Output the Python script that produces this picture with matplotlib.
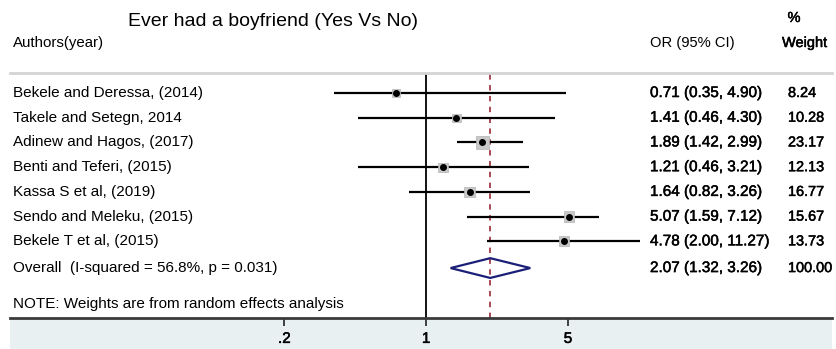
import matplotlib
matplotlib.use("Agg")
import matplotlib.pyplot as plt
import matplotlib.patheffects as pe
from matplotlib.patches import Rectangle, Polygon

plt.rcParams['font.family'] = ['Liberation Sans', 'DejaVu Sans']

# study data
studies = ["Bekele and Deressa, (2014)", "Takele and Setegn, 2014",
           "Adinew and Hagos, (2017)", "Benti and Teferi, (2015)",
           "Kassa S et al, (2019)", "Sendo and Meleku, (2015)",
           "Bekele T et al, (2015)"]
odds = [0.71, 1.41, 1.89, 1.21, 1.64, 5.07, 4.78]
lower = [0.35, 0.46, 1.42, 0.46, 0.82, 1.59, 2.00]
upper = [4.90, 4.30, 2.99, 3.21, 3.26, 7.12, 11.27]
weights = [8.24, 10.28, 23.17, 12.13, 16.77, 15.67, 13.73]

overall_label = "Overall  (I-squared = 56.8%, p = 0.031)"
overall_or, overall_lo, overall_hi = 2.07, 1.32, 3.26
overall_weight = 100.00

xticks = [0.2, 1, 5]
xticklabels = [".2", "1", "5"]

W, H = 836, 349
fig = plt.figure(figsize=(W / 100, H / 100), dpi=100)

# slightly heavier text for the numeric columns
heavy = [pe.withStroke(linewidth=0.35, foreground='black')]


def fx(x):
    return x / W


def fy(y):
    return 1 - y / H


# light strip under the axis
fig.patches.append(Rectangle((fx(10), 0), fx(832) - fx(10), fy(318),
                             transform=fig.transFigure, facecolor='#e8f0f2',
                             edgecolor='none', zorder=-5))

ax = fig.add_axes([fx(10), fy(318), fx(832) - fx(10), fy(73) - fy(318)])
ax.set_facecolor('none')
ax.set_xscale('log')
ax.set_xlim(0.0089, 100)
ax.set_ylim(9.1, -0.81)

for s in ['left', 'right']:
    ax.spines[s].set_visible(False)
ax.spines['top'].set_color('#d4d4d4')
ax.spines['top'].set_linewidth(2)
ax.spines['bottom'].set_color('#3a3a3a')
ax.spines['bottom'].set_linewidth(2)

ax.set_yticks([])
ax.set_xticks(xticks)
ax.set_xticklabels(xticklabels, fontsize=11, path_effects=heavy)
ax.minorticks_off()
ax.tick_params(axis='x', direction='out', length=6, width=1.2, pad=4,
               color='#222222')

# null line and pooled estimate line
ax.axvline(1, color='black', lw=1.3, zorder=2)
ax.axvline(overall_or, color='#a33a48', lw=1.3, ls=(0, (3, 3)), zorder=2)

rows = list(range(len(studies)))
ax.hlines(rows, lower, upper, color='black', lw=1.6, zorder=3)
ax.scatter(odds, rows, marker='s', s=[3.6 * w for w in weights],
           color='#c8c8c8', edgecolor='#b4b4b4', lw=0.5, zorder=4)
ax.plot(odds, rows, 'o', color='black', ms=4, zorder=5)

# pooled diamond
y_ov = 7.08
diamond = Polygon([(overall_lo, y_ov), (overall_or, y_ov - 0.4),
                   (overall_hi, y_ov), (overall_or, y_ov + 0.4)],
                  closed=True, fill=False, edgecolor='#1c1f78', lw=1.6, zorder=5)
ax.add_patch(diamond)

# text columns
tr = ax.get_yaxis_transform()
xl = (13 - 10) / 822
xo = (650 - 10) / 822
xw = (788 - 10) / 822
for i, name in enumerate(studies):
    ax.text(xl, i, name, transform=tr, fontsize=11, va='center')
    ax.text(xo, i, f"{odds[i]:.2f} ({lower[i]:.2f}, {upper[i]:.2f})",
            transform=tr, fontsize=11, va='center', path_effects=heavy)
    ax.text(xw, i, f"{weights[i]:.2f}", transform=tr, fontsize=10.4,
            va='center', path_effects=heavy)

ax.text(xl, y_ov, overall_label, transform=tr, fontsize=11, va='center')
ax.text(xo, y_ov, f"{overall_or:.2f} ({overall_lo:.2f}, {overall_hi:.2f})",
        transform=tr, fontsize=11, va='center', path_effects=heavy)
ax.text(xw, y_ov, f"{overall_weight:.2f}", transform=tr, fontsize=10.4,
        va='center', path_effects=heavy)
ax.text(xl, 8.54, "NOTE: Weights are from random effects analysis",
        transform=tr, fontsize=11, va='center')

# headers
fig.text(fx(128), fy(21), "Ever had a boyfriend (Yes Vs No)", fontsize=14,
         va='center')
fig.text(fx(13), fy(43), "Authors(year)", fontsize=10.8, va='center')
fig.text(fx(650), fy(43), "OR (95% CI)", fontsize=10.6, va='center')
fig.text(fx(794), fy(18), "%", fontsize=10.5, va='center', ha='center',
         path_effects=heavy)
fig.text(fx(782), fy(43), "Weight", fontsize=10.5, va='center',
         path_effects=heavy)

fig.savefig("out.png", dpi=100)
